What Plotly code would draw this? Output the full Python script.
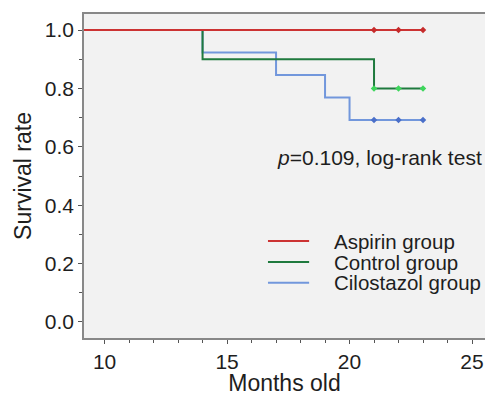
import plotly.graph_objects as go

# ---- data ----
aspirin_t = [0, 23]
aspirin_s = [1.0, 1.0]
aspirin_cens_t = [21, 22, 23]
aspirin_cens_s = [1.0, 1.0, 1.0]

control_t = [0, 14, 21, 23]
control_s = [1.0, 0.9, 0.8, 0.8]
control_cens_t = [21, 22, 23]
control_cens_s = [0.8, 0.8, 0.8]

cilo_t = [0, 14, 17, 19, 20, 23]
cilo_s = [1.0, 0.923, 0.846, 0.769, 0.692, 0.692]
cilo_cens_t = [21, 22, 23]
cilo_cens_s = [0.692, 0.692, 0.692]

groups = ["Aspirin group", "Control group", "Cilostazol group"]
line_colors = ["#cc3333", "#1f7a3e", "#7297dc"]
marker_colors = ["#c62b2b", "#3ed65c", "#4a6fc9"]

FONT = "Liberation Sans, Arial, sans-serif"
TXT = "#1e1e1e"

fig = go.Figure()
series = [(aspirin_t, aspirin_s, aspirin_cens_t, aspirin_cens_s),
          (control_t, control_s, control_cens_t, control_cens_s),
          (cilo_t, cilo_s, cilo_cens_t, cilo_cens_s)]
for i in [2, 1, 0]:
    t, s, ct, cs = series[i]
    fig.add_trace(go.Scatter(x=t, y=s, mode="lines", line=dict(color=line_colors[i], width=2, shape="hv"),
                             showlegend=False, hoverinfo="skip"))
    fig.add_trace(go.Scatter(x=ct, y=cs, mode="markers", marker=dict(color=marker_colors[i], size=5, symbol="diamond"),
                             showlegend=False, hoverinfo="skip"))

# custom legend
leg_y = [0.277, 0.205, 0.134]
for i, g in enumerate(groups):
    fig.add_shape(type="line", x0=16.67, x1=18.35, y0=leg_y[i], y1=leg_y[i],
                  line=dict(color=line_colors[i], width=2))
    fig.add_annotation(x=19.29, y=leg_y[i], text=g, showarrow=False, xanchor="left", yanchor="middle",
                       font=dict(family=FONT, size=20.5, color=TXT))

fig.add_annotation(x=16.96, y=0.562, text="<i>p</i>=0.109, log-rank test", showarrow=False,
                   xanchor="left", yanchor="middle", font=dict(family=FONT, size=21, color=TXT))

fig.update_layout(
    width=485, height=396,
    margin=dict(l=84, r=0, t=14, b=58),
    paper_bgcolor="white", plot_bgcolor="#f2f2f2",
    font=dict(family=FONT, size=21, color=TXT),
)
fig.update_xaxes(range=[9.16, 25.53], tickvals=[10, 15, 20, 25], ticks="outside", ticklen=4, tickcolor="#555",
                 minor=dict(dtick=1, tick0=0, ticks="outside", ticklen=3, tickcolor="#555"),
                 showgrid=False, zeroline=False, showline=True, linecolor="#888", linewidth=1.5, mirror=True,
                 title=dict(text="Months old", font=dict(size=23), standoff=8),
                 tickfont=dict(size=21))
fig.update_yaxes(range=[-0.055, 1.055], tickvals=[0, 0.2, 0.4, 0.6, 0.8, 1.0], tickformat=".1f",
                 ticks="outside", ticklen=4, tickcolor="#555",
                 minor=dict(dtick=0.1, tick0=0, ticks="outside", ticklen=3, tickcolor="#555"),
                 showgrid=False, zeroline=False, showline=True, linecolor="#888", linewidth=1.5, mirror=False,
                 title=dict(text="Survival rate", font=dict(size=23), standoff=7),
                 tickfont=dict(size=21))

fig.write_html("out.html", config={"displayModeBar": False},
               post_script="document.body.style.margin='0px';document.body.style.overflow='hidden';")
